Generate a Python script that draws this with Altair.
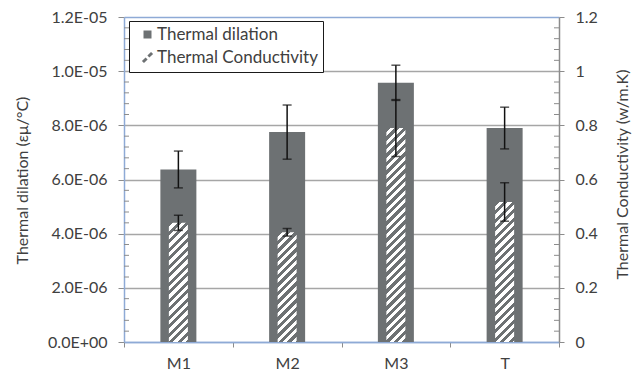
import math
import altair as alt
import pandas as pd

# ---- data ----
categories = ["M1", "M2", "M3", "T"]
dilation = [6.37e-6, 7.75e-6, 9.57e-6, 7.90e-6]
dilation_err = [0.68e-6, 1.00e-6, 0.65e-6, 0.77e-6]
conductivity = [0.44, 0.405, 0.79, 0.517]
conductivity_err = [0.028, 0.014, 0.105, 0.071]
series_names = ["Thermal dilation", "Thermal Conductivity"]

left_ticks = [0, 2e-6, 4e-6, 6e-6, 8e-6, 1e-5, 1.2e-5]
left_labels = ["0.0E+00", "2.0E-06", "4.0E-06", "6.0E-06", "8.0E-06", "1.0E-05", "1.2E-05"]
right_ticks = [0, 0.2, 0.4, 0.6, 0.8, 1.0, 1.2]
right_labels = ["0", "0.2", "0.4", "0.6", "0.8", "1", "1.2"]
minor_ticks = [round(0.04 * i, 2) for i in range(1, 30) if i % 5 != 0]

# ---- style ----
W, H = 435, 325
FONT = "Lato"
DARK = "#6d7173"
BLUE = "#8eaad6"
GRAY = "#a6a6a6"
TICK = "#8c8c8c"
TXT = "#404040"
ERR = "#111111"
BAR_W, HATCH_W = 36, 19
SLASH = ("M-1.4,0.88L-0.48,-0.03L0.03,0.48L-0.88,1.4Z"
         "M-0.03,-0.48L0.88,-1.4L1.4,-0.88L0.48,0.03Z")
NBSP = "\u00a0"

df = pd.DataFrame({
    "cat": categories,
    "dil": dilation,
    "dil_lo": [v - e for v, e in zip(dilation, dilation_err)],
    "dil_hi": [v + e for v, e in zip(dilation, dilation_err)],
    "cond": conductivity,
    "cond_lo": [v - e for v, e in zip(conductivity, conductivity_err)],
    "cond_hi": [v + e for v, e in zip(conductivity, conductivity_err)],
})
minor_df = pd.DataFrame({"m": minor_ticks})
# helper rows for the legend only (placed outside the clipped plot area)
legend_df = pd.DataFrame({"series": series_names, "cat": categories[0], "v": -1.0})

base = alt.Chart(df)

x_enc = alt.X(
    "cat:N", sort=categories, title=None,
    scale=alt.Scale(paddingInner=0, paddingOuter=0),
    axis=alt.Axis(
        labelAngle=0, tickBand="extent", tickSize=5, tickColor=TICK,
        domainColor=BLUE, domainWidth=1.5, labelPadding=8,
        labelFontSize=16, labelFont=FONT, labelColor=TXT, grid=False,
    ),
)
x_plain = alt.X("cat:N", sort=categories)


def yL(field, axis=None):
    return alt.Y(field, type="quantitative", title=None, axis=axis,
                 scale=alt.Scale(domain=[0, 1.2e-5], nice=False, zero=True))


def yR(field, axis=None):
    return alt.Y(field, type="quantitative", title=None, axis=axis,
                 scale=alt.Scale(domain=[0, 1.2], nice=False, zero=True))


def lookup_expr(ticks, labels):
    return "[" + ",".join("'%s'" % s for s in labels) + "][indexof([" + \
        ",".join(repr(float(t)) for t in ticks) + "], datum.value)]"


left_axis = alt.Axis(
    orient="left", values=left_ticks, labelExpr=lookup_expr(left_ticks, left_labels),
    grid=True,
    gridColor={"condition": {"test": "datum.value > 1.1e-5 || datum.value < 1e-7", "value": BLUE},
               "value": GRAY},
    gridWidth=1.5, domainColor=BLUE, domainWidth=1.5, tickColor=TICK, tickSize=6,
    labelPadding=11, labelFontSize=16, labelFont=FONT, labelColor=TXT,
    title="Thermal dilation (εμ/°C)", titleFont=FONT, titleFontSize=16,
    titleFontWeight="normal", titleColor=TXT, titleAngle=270,
    titleX=-102, titleY=163, titleAlign="center", titleBaseline="middle",
)

right_axis = alt.Axis(
    orient="right", values=right_ticks, labelExpr=lookup_expr(right_ticks, right_labels),
    grid=False, domainColor=TICK, domainWidth=1.5, tickColor=TICK, tickSize=5,
    labelPadding=11, labelFontSize=16, labelFont=FONT, labelColor=TXT,
    title="Thermal Conductivity (w/m.K)", titleFont=FONT, titleFontSize=16,
    titleFontWeight="normal", titleColor=TXT, titleAngle=270,
    titleX=63, titleY=157, titleAlign="center", titleBaseline="middle",
)

legend = alt.Legend(
    title=None, orient="none", legendX=5, legendY=4, direction="vertical",
    strokeColor="#1a1a1a", fillColor="white", padding=5, rowPadding=5,
    symbolOffset=5, labelOffset=1, symbolSize=64, symbolOpacity=1,
    labelFontSize=17, labelFont=FONT, labelColor=TXT, labelLimit=400,
    labelExpr="datum.label + '" + NBSP * 3 + "'",
)

dil_bars = base.mark_bar(size=BAR_W, color=DARK).encode(
    x=x_enc, y=yL("dil", left_axis))


def hatch_gradient(h, w=HATCH_W, period=8.5):
    L = w + h
    denom = w * w + h * h
    n = L / period
    stops = []
    k = 0
    while k / n < 1:
        a, b, c = k / n, min((k + 0.5) / n, 1), min((k + 1) / n, 1)
        stops += [{"offset": a, "color": DARK}, {"offset": b, "color": DARK},
                  {"offset": b, "color": "white"}, {"offset": c, "color": "white"}]
        k += 1
    return {"gradient": "linear", "x1": 0, "y1": 0,
            "x2": w * L / denom, "y2": h * L / denom, "stops": stops}


hatch_layers = []
for cat, val in zip(categories, conductivity):
    grad = hatch_gradient(val * H / 1.2)
    hatch_layers.append(
        base.transform_filter(alt.datum.cat == cat)
        .mark_bar(size=HATCH_W, fill=grad)
        .encode(x=x_plain, y=yR("cond", right_axis if cat == "M1" else None))
    )

dil_rule = base.mark_rule(color=ERR, strokeWidth=1.5).encode(
    x=x_plain, y=yL("dil_lo"), y2="dil_hi")
dil_cap_lo = base.mark_tick(color=ERR, size=9, thickness=1.5).encode(
    x=x_plain, y=yL("dil_lo"))
dil_cap_hi = base.mark_tick(color=ERR, size=9, thickness=1.5).encode(
    x=x_plain, y=yL("dil_hi"))

cond_rule = base.mark_rule(color=ERR, strokeWidth=1.5).encode(
    x=x_plain, y=yR("cond_lo"), y2="cond_hi")
cond_cap_lo = base.mark_tick(color=ERR, size=9, thickness=1.5).encode(
    x=x_plain, y=yR("cond_lo"))
cond_cap_hi = base.mark_tick(color=ERR, size=9, thickness=1.5).encode(
    x=x_plain, y=yR("cond_hi"))

minor_left = alt.Chart(minor_df).mark_rule(color=TICK, strokeWidth=1).encode(
    y=yR("m"), x=alt.value(0), x2=alt.value(5))
minor_right = alt.Chart(minor_df).mark_rule(color=TICK, strokeWidth=1).encode(
    y=yR("m"), x=alt.value(W - 5), x2=alt.value(W))

legend_layer = alt.Chart(legend_df).mark_point(filled=True, clip=True).encode(
    x=x_plain, y=yR("v"),
    color=alt.Color("series:N", scale=alt.Scale(domain=series_names, range=[DARK, DARK]),
                    legend=legend),
    shape=alt.Shape("series:N", scale=alt.Scale(domain=series_names, range=["square", SLASH]),
                    legend=legend),
)

chart = alt.layer(
    dil_bars, *hatch_layers, dil_rule, dil_cap_lo, dil_cap_hi,
    cond_rule, cond_cap_lo, cond_cap_hi, minor_left, minor_right, legend_layer,
).resolve_scale(y="independent").properties(
    width=W, height=H,
    autosize=alt.AutoSizeParams(type="none"),
    padding={"left": 124, "top": 17, "right": 73, "bottom": 34},
    background="white",
).configure_view(stroke=None)

chart.save("out.html", embed_options={"renderer": "svg", "actions": False})
